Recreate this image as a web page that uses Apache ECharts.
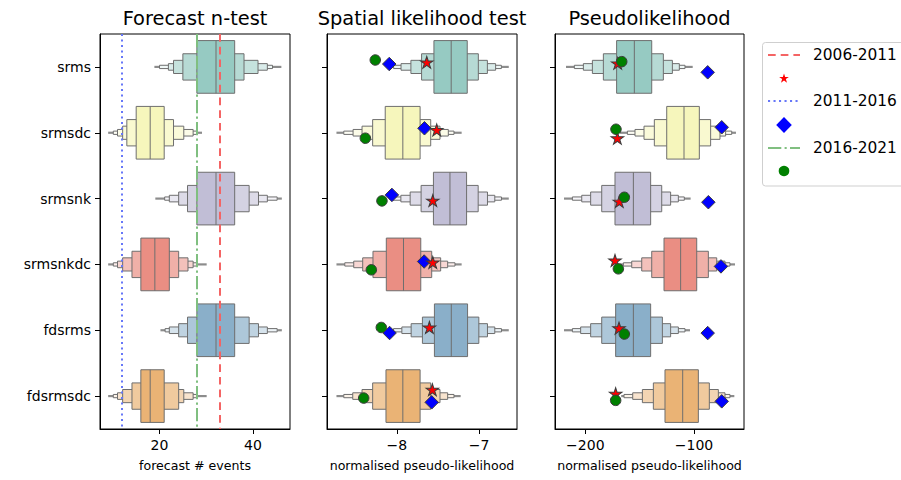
<!DOCTYPE html>
<html><head><meta charset="utf-8">
<script src="https://cdn.jsdelivr.net/npm/echarts@6/dist/echarts.min.js"></script>
<style>html,body{margin:0;padding:0;background:#fff}#c{width:901px;height:480px}</style>
</head><body><div id="c"></div>
<script>
// ---------------- DATA ----------------
const categories = ['srms', 'srmsdc', 'srmsnk', 'srmsnkdc', 'fdsrms', 'fdsrmsdc'];
const panelTitles = ['Forecast n-test', 'Spatial likelihood test', 'Pseudolikelihood'];
const axisNames = ['forecast # events', 'normalised pseudo-likelihood', 'normalised pseudo-likelihood'];
const legendLabels = ['2006-2011', '2011-2016', '2016-2021'];

// letter values per row: [outLo, L4lo, L3lo, L2lo, L1lo, q25, median, q75, L1hi, L2hi, L3hi, L4hi, outHi]
const nTestBoxes = [
  [18.9, 20.0, 21.9, 23.0, 25.0, 28.0, 32.1, 36.1, 38.1, 41.1, 43.1, 44.2, 46.1],
  [9.0, 10.1, 11.0, 12.1, 13.0, 15.0, 18.0, 21.0, 23.0, 25.2, 27.2, 28.0, 29.1],
  [19.1, 21.1, 22.1, 24.1, 26.0, 28.0, 32.1, 36.1, 39.2, 41.2, 43.1, 45.2, 46.2],
  [9.0, 10.1, 11.0, 12.1, 14.1, 16.0, 19.0, 22.1, 24.1, 26.1, 27.2, 28.0, 30.1],
  [20.2, 21.2, 22.1, 24.1, 26.0, 28.0, 32.1, 36.1, 39.2, 41.2, 43.1, 45.2, 46.2],
  [9.0, 10.1, 11.0, 12.1, 14.1, 16.0, 18.0, 21.0, 24.1, 25.2, 27.2, 28.0, 30.1]
];
const spatialBoxes = [
  [-8.10, -8.04, -7.95, -7.83, -7.70, -7.55, -7.34, -7.145, -7.01, -6.90, -6.80, -6.73, -6.64],
  [-8.735, -8.646, -8.533, -8.424, -8.295, -8.142, -7.928, -7.718, -7.589, -7.476, -7.375, -7.306, -7.213],
  [-8.09, -8.049, -7.952, -7.839, -7.706, -7.556, -7.355, -7.153, -7.012, -6.899, -6.81, -6.729, -6.64],
  [-8.735, -8.634, -8.525, -8.416, -8.291, -8.129, -7.92, -7.71, -7.577, -7.468, -7.383, -7.294, -7.213],
  [-8.09, -8.041, -7.94, -7.827, -7.69, -7.544, -7.339, -7.141, -7.004, -6.899, -6.81, -6.729, -6.64],
  [-8.735, -8.646, -8.537, -8.424, -8.295, -8.133, -7.928, -7.718, -7.589, -7.476, -7.383, -7.306, -7.225]
];
const pseudoBoxes = [
  [-217.8, -210.1, -201.8, -193.5, -183.4, -171.2, -154.9, -138.9, -128.2, -119.9, -113.5, -108.3, -101.2],
  [-168.1, -161.3, -154.3, -146.0, -136.5, -125.1, -109.2, -95.1, -84.7, -76.1, -70.9, -65.3, -61.4],
  [-219.6, -211.9, -203.3, -195.1, -184.9, -172.7, -155.8, -139.9, -129.7, -121.5, -114.4, -108.9, -103.1],
  [-168.0, -165.0, -157.3, -148.1, -138.9, -127.6, -112.3, -97.5, -86.8, -79.1, -71.5, -66.9, -62.3],
  [-219.6, -211.9, -204.3, -195.1, -184.9, -172.1, -155.8, -139.9, -129.1, -121.5, -114.4, -108.3, -103.7],
  [-167.0, -164.4, -156.4, -147.5, -137.4, -126.7, -110.4, -96.0, -85.9, -77.6, -71.5, -66.9, -62.9]
];

// observed numbers of events (2006-2011, 2011-2016, 2016-2021)
const observedNTest = [33, 12, 28];

// observed spatial likelihoods
const spatial2006 = [-7.637, -7.516, -7.564, -7.564, -7.605, -7.569];
const spatial2011 = [-8.093, -7.665, -8.061, -7.669, -8.089, -7.577];
const spatial2016 = [-8.263, -8.384, -8.182, -8.311, -8.190, -8.404];
const spatialJitter2006 = [-0.07, -0.042, 0.03, -0.03, -0.042, -0.097];
const spatialJitter2011 = [-0.044, -0.068, -0.056, -0.044, 0.042, 0.095];
const spatialJitter2016 = [-0.105, 0.083, 0.035, 0.082, -0.042, 0.03];

// observed pseudolikelihoods
const pseudo2006 = [-170.2, -170.5, -168.7, -172.7, -169.0, -172.1];
const pseudo2011 = [-87.4, -74.5, -86.8, -75.2, -87.4, -74.5];
const pseudo2016 = [-166.5, -171.8, -164.1, -169.6, -164.1, -172.1];
const pseudoJitter2006 = [-0.055, 0.083, 0.045, -0.06, -0.033, -0.036];
const pseudoJitter2011 = [0.082, -0.083, 0.055, 0.03, 0.043, 0.08];
const pseudoJitter2016 = [-0.08, -0.053, -0.02, 0.067, 0.058, 0.065];

const xTicks = [[20, 40], [-8, -7], [-200, -100]];

// ---------------- STYLE ----------------
const FONT = 'DejaVu Sans';
const baseColors = ['#96cac2', '#f6f6bc', '#c1bed6', '#ea8e83', '#8aafc9', '#eab375'];
const levelFade = [0, 0.3, 0.45, 0.65, 0.85];
const edgeColor = '#6e6e6e';
const redC = '#f46464', blueC = '#6677f8', greenC = '#80bf80';
const dashRed = [7.7, 5], dashBlue = [2.1, 3.4], dashGreen = [13.3, 3.3, 2.1, 3.3];

function mix(hex, f) {
  const n = parseInt(hex.slice(1), 16);
  const r = (n >> 16) & 255, g = (n >> 8) & 255, b = n & 255;
  const m = c => Math.round(c + (255 - c) * f);
  return 'rgb(' + m(r) + ',' + m(g) + ',' + m(b) + ')';
}
function fmt(v) { return v < 0 ? '\u2212' + Math.abs(v) : String(v); }

const grids = [
  { left: 100, top: 34, width: 190, height: 395 },
  { left: 327, top: 34, width: 190, height: 395 },
  { left: 555, top: 34, width: 189, height: 395 }
];
const xRanges = [[7.25, 47.95], [-8.85, -6.54], [-227.9, -54]];

function renderBox(params, api) {
  const c = api.value(0);
  const v = [];
  for (let i = 1; i <= 13; i++) v.push(api.value(i));
  const base = baseColors[params.dataIndex];
  const children = [];
  [[v[0], v[1]], [v[11], v[12]]].forEach(function (seg) {
    const p1 = api.coord([seg[0], c]), p2 = api.coord([seg[1], c]);
    children.push({ type: 'line', shape: { x1: p1[0], y1: p1[1], x2: p2[0], y2: p2[1] },
      style: { stroke: '#8c8c8c', lineWidth: 2.2 } });
  });
  for (let k = 4; k >= 0; k--) {
    const h = 0.8 * Math.pow(0.5, k);
    const a = api.coord([v[5 - k], c - h / 2]);
    const b = api.coord([v[7 + k], c + h / 2]);
    children.push({ type: 'rect',
      shape: { x: Math.min(a[0], b[0]), y: Math.min(a[1], b[1]), width: Math.abs(b[0] - a[0]), height: Math.abs(b[1] - a[1]) },
      style: { fill: mix(base, levelFade[k]), stroke: edgeColor, lineWidth: 1 } });
  }
  const m1 = api.coord([v[6], c - 0.4]), m2 = api.coord([v[6], c + 0.4]);
  children.push({ type: 'line', shape: { x1: m1[0], y1: m1[1], x2: m2[0], y2: m2[1] },
    style: { stroke: edgeColor, lineWidth: 1 } });
  return { type: 'group', children: children };
}

const xAxes = [], yAxes = [], series = [];
[0, 1, 2].forEach(function (i) {
  xAxes.push({
    type: 'value', gridIndex: i, min: xRanges[i][0], max: xRanges[i][1],
    splitLine: { show: false },
    axisLine: { show: true, onZero: false, lineStyle: { color: '#000', width: 1 } },
    axisTick: { show: true, length: 5, customValues: xTicks[i], lineStyle: { color: '#000' } },
    axisLabel: { show: true, customValues: xTicks[i], formatter: fmt, margin: 9, fontFamily: FONT, fontSize: 14, color: '#000' },
    name: axisNames[i], nameLocation: 'middle', nameGap: 30,
    nameTextStyle: { fontFamily: FONT, fontSize: 12.6, color: '#000' }
  });
  yAxes.push({
    type: 'value', gridIndex: i, min: -0.5, max: 5.5, inverse: true,
    splitLine: { show: false },
    axisLine: { show: true, onZero: false, lineStyle: { color: '#000', width: 1 } },
    axisTick: { show: true, length: 5, customValues: [0, 1, 2, 3, 4, 5], lineStyle: { color: '#000' } },
    axisLabel: { show: i === 0, customValues: [0, 1, 2, 3, 4, 5], margin: 9,
      formatter: function (v) { return categories[Math.round(v)]; },
      fontFamily: FONT, fontSize: 14, color: '#000' }
  });
});

const boxSets = [nTestBoxes, spatialBoxes, pseudoBoxes];
boxSets.forEach(function (boxes, i) {
  series.push({
    type: 'custom', xAxisIndex: i, yAxisIndex: i, silent: true,
    renderItem: renderBox, clip: false,
    encode: { x: [1, 2, 3, 4, 5, 6, 7, 8, 9, 10, 11, 12, 13], y: 0 },
    data: boxes.map(function (b, r) { return [r].concat(b); }),
    z: 2
  });
});

// observed lines for n-test
series.push({
  type: 'scatter', xAxisIndex: 0, yAxisIndex: 0, data: [], silent: true, z: 5,
  markLine: {
    silent: true, symbol: 'none', animation: false, label: { show: false },
    data: [
      { xAxis: observedNTest[0], lineStyle: { color: redC, width: 2, type: dashRed } },
      { xAxis: observedNTest[1], lineStyle: { color: blueC, width: 2, type: dashBlue } },
      { xAxis: observedNTest[2], lineStyle: { color: greenC, width: 2, type: dashGreen } }
    ]
  }
});

const starPath = 'path://M0,-1L0.2245,-0.309L0.951,-0.309L0.363,0.118L0.588,0.809L0,0.382L-0.588,0.809L-0.363,0.118L-0.951,-0.309L-0.2245,-0.309Z';
function markerSeries(panel, vals, jit, kind) {
  const conf = {
    star: { symbol: starPath, size: [12.6, 12], color: '#ff0000', z: 11 },
    diamond: { symbol: 'diamond', size: 13.5, color: '#0000ff', z: 10 },
    circle: { symbol: 'circle', size: 10.5, color: '#008000', z: 12 }
  }[kind];
  return {
    type: 'scatter', xAxisIndex: panel, yAxisIndex: panel, silent: true,
    symbol: conf.symbol, symbolSize: conf.size, z: conf.z,
    itemStyle: { color: conf.color, borderColor: '#3c3c3c', borderWidth: 1, opacity: 1 },
    data: vals.map(function (v, r) { return [v, r + jit[r]]; })
  };
}
series.push(markerSeries(1, spatial2011, spatialJitter2011, 'diamond'));
series.push(markerSeries(1, spatial2006, spatialJitter2006, 'star'));
series.push(markerSeries(1, spatial2016, spatialJitter2016, 'circle'));
series.push(markerSeries(2, pseudo2011, pseudoJitter2011, 'diamond'));
series.push(markerSeries(2, pseudo2006, pseudoJitter2006, 'star'));
series.push(markerSeries(2, pseudo2016, pseudoJitter2016, 'circle'));

// ---------------- GRAPHICS (titles, legend) ----------------
function starPts(cx, cy, R) {
  const pts = [];
  for (let k = 0; k < 10; k++) {
    const r = k % 2 === 0 ? R : R * 0.382;
    const a = -Math.PI / 2 + k * Math.PI / 5;
    pts.push([cx + r * Math.cos(a), cy + r * Math.sin(a)]);
  }
  return pts;
}
const graphics = [];
panelTitles.forEach(function (t, i) {
  graphics.push({ type: 'text', x: grids[i].left + grids[i].width / 2, y: 18,
    style: { text: t, fontFamily: FONT, fontSize: 19.4, fill: '#000', textAlign: 'center', textVerticalAlign: 'middle' } });
});
graphics.push({ type: 'rect', shape: { x: 762.5, y: 42.5, width: 160, height: 143.5, r: 3 },
  style: { fill: '#fff', stroke: '#cfcfcf', lineWidth: 1 } });
const lgY = [55, 101, 148];
const lgColors = [redC, blueC, greenC];
const lgDash = [dashRed, dashBlue, dashGreen];
[0, 1, 2].forEach(function (i) {
  graphics.push({ type: 'line', shape: { x1: 768, y1: lgY[i], x2: 800, y2: lgY[i] },
    style: { stroke: lgColors[i], lineWidth: 2, lineDash: lgDash[i] } });
  graphics.push({ type: 'text', x: 813, y: lgY[i],
    style: { text: legendLabels[i], fontFamily: FONT, fontSize: 15.4, fill: '#000', textVerticalAlign: 'middle' } });
});
graphics.push({ type: 'polygon', shape: { points: starPts(784, 78.5, 5.1) }, style: { fill: '#ff0000' } });
graphics.push({ type: 'polygon', shape: { points: [[784, 117], [791.8, 125], [784, 133], [776.2, 125]] }, style: { fill: '#0000ff' } });
graphics.push({ type: 'circle', shape: { cx: 784, cy: 171, r: 5.3 }, style: { fill: '#008000' } });

const option = {
  animation: false,
  backgroundColor: '#fff',
  grid: grids.map(function (g) { return Object.assign({ show: true, borderColor: '#000', borderWidth: 1, backgroundColor: 'transparent' }, g); }),
  xAxis: xAxes, yAxis: yAxes, series: series,
  graphic: { elements: graphics }
};
const chart = echarts.init(document.getElementById('c'), null, { renderer: 'svg' });
chart.setOption(option);
</script>
</body></html>
